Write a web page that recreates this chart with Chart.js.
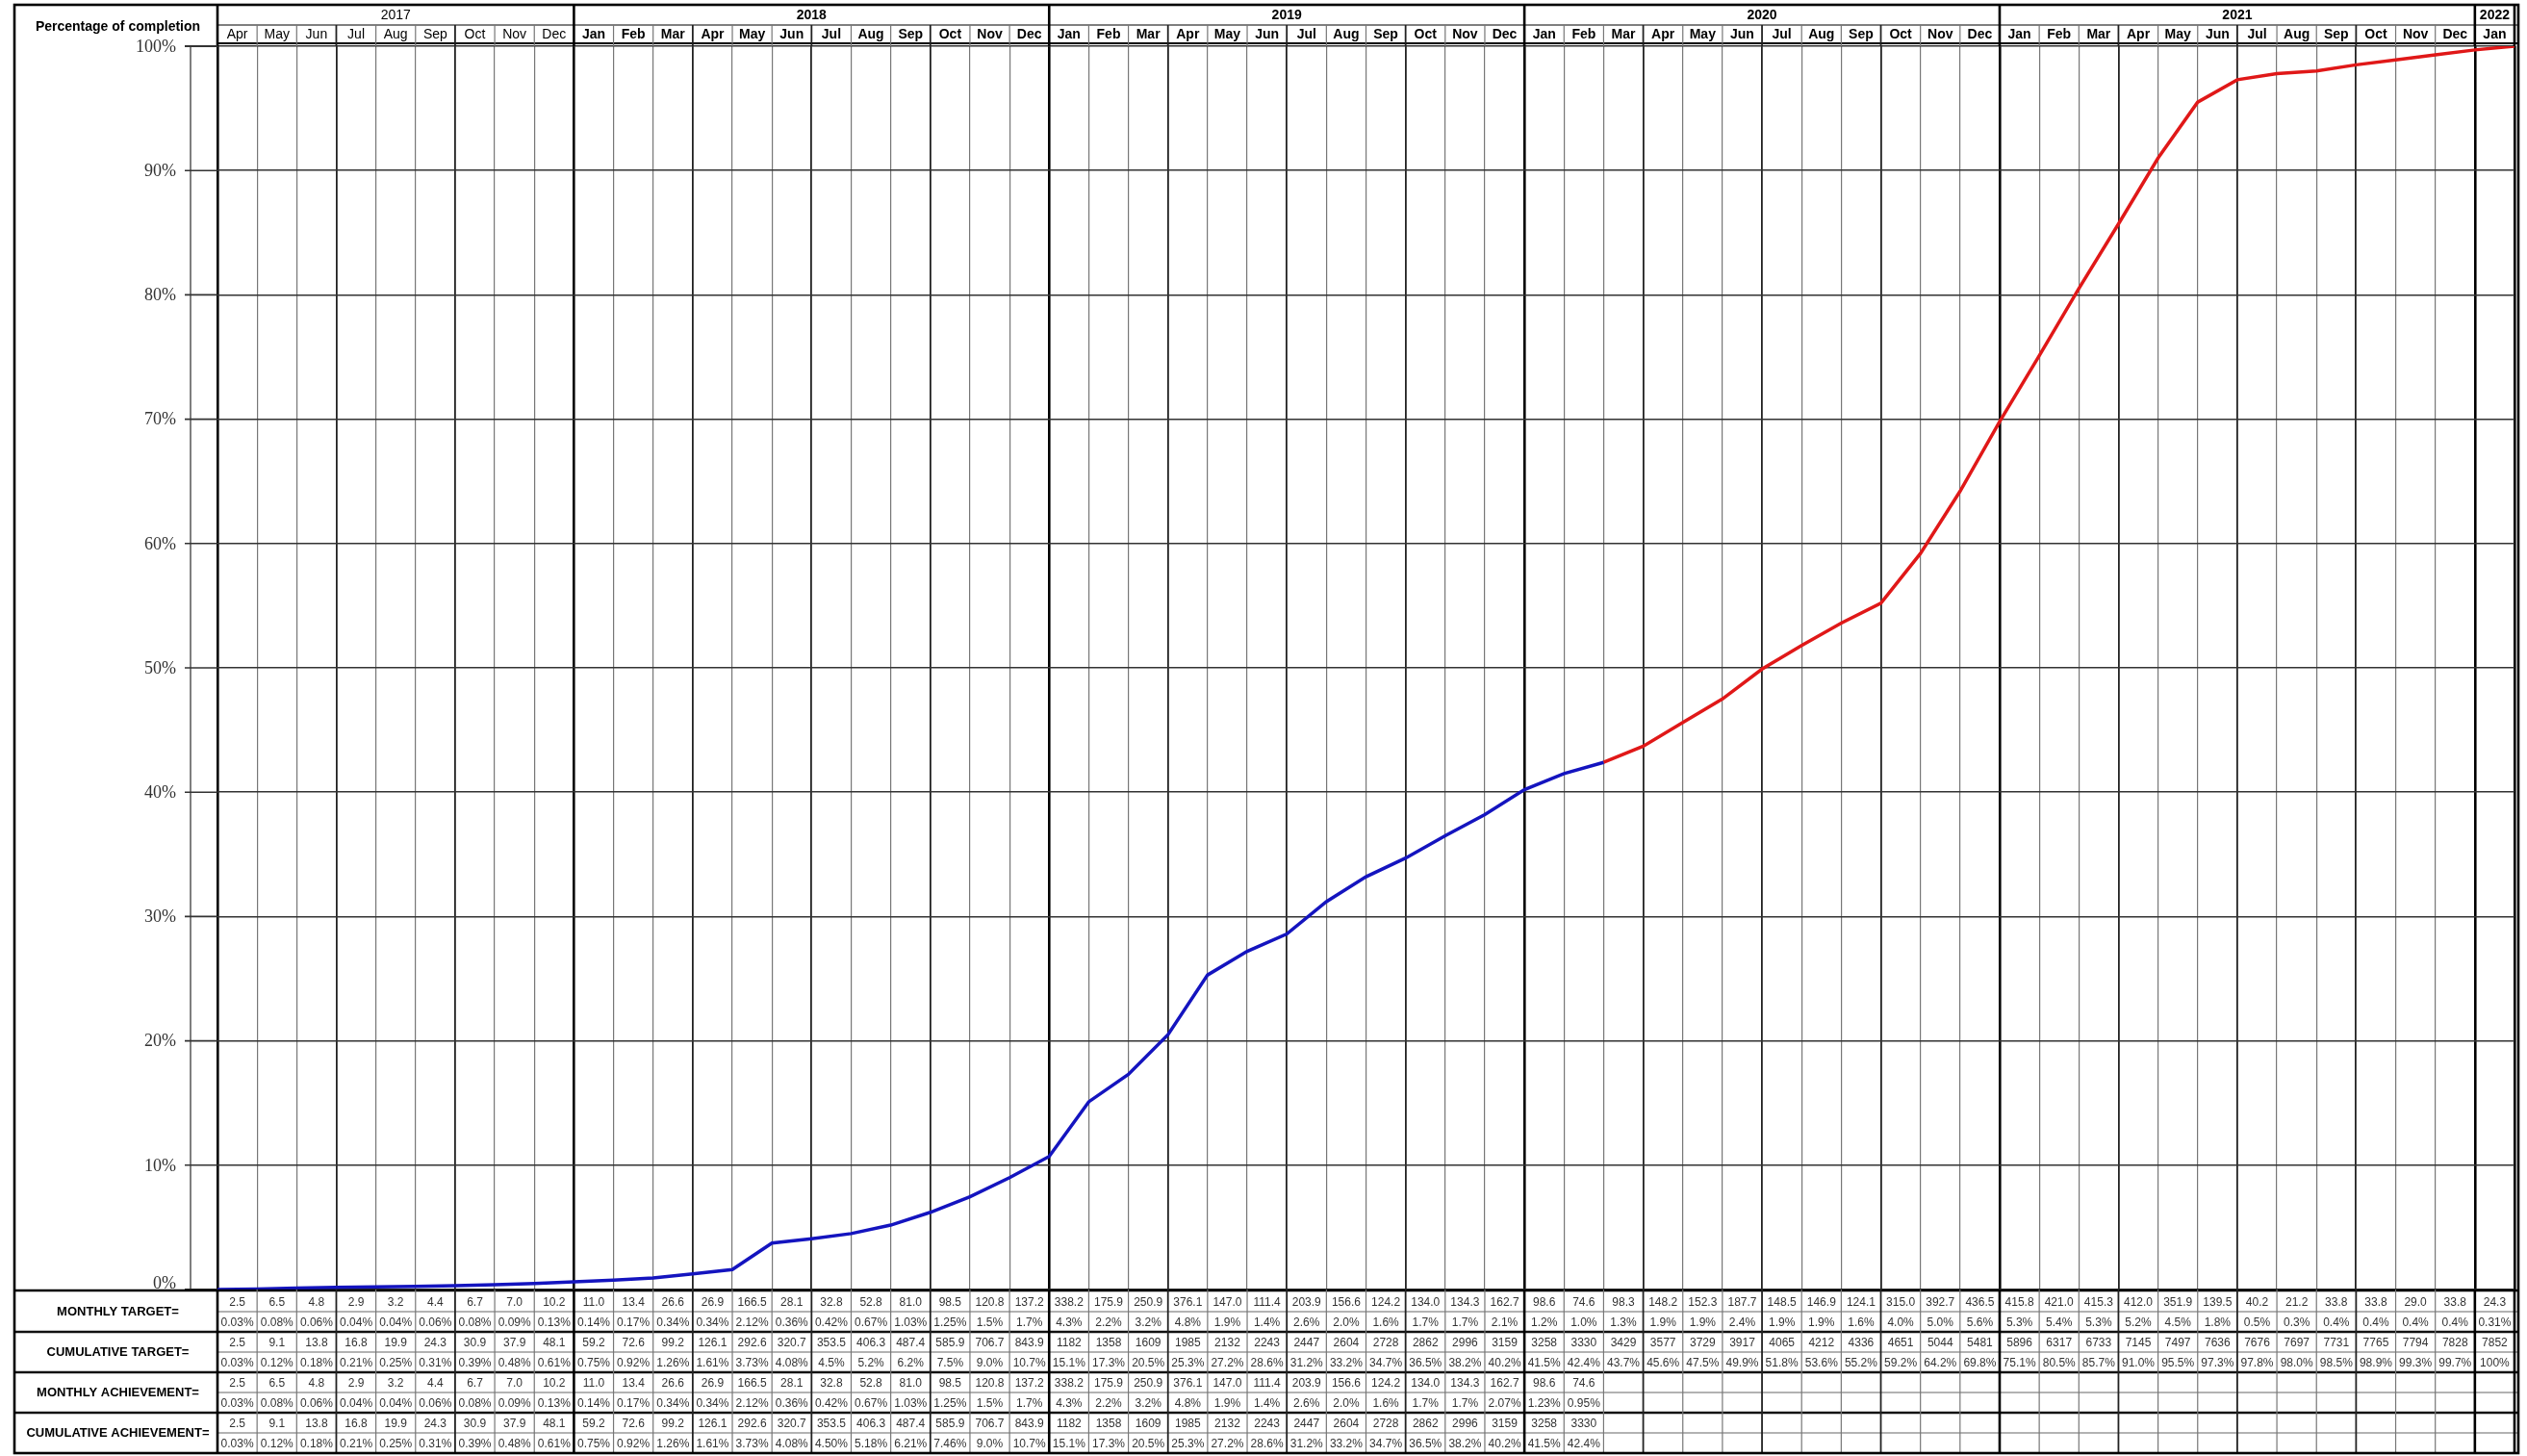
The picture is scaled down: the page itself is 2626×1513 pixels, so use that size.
<!DOCTYPE html>
<html>
<head>
<meta charset="utf-8">
<script src="https://cdn.jsdelivr.net/npm/chart.js@4.4.1/dist/chart.umd.min.js"></script>
<style>
  body { margin: 0; background: #fff; }
  #wrap { width: 2626px; height: 1513px; position: relative; }
</style>
</head>
<body>
<div id="wrap"><canvas id="chart"></canvas></div>
<script>
// months from Apr 2017 to Jan 2022
const monthLabels = [
  'Apr','May','Jun','Jul','Aug','Sep','Oct','Nov','Dec',
  'Jan','Feb','Mar','Apr','May','Jun','Jul','Aug','Sep','Oct','Nov','Dec',
  'Jan','Feb','Mar','Apr','May','Jun','Jul','Aug','Sep','Oct','Nov','Dec',
  'Jan','Feb','Mar','Apr','May','Jun','Jul','Aug','Sep','Oct','Nov','Dec',
  'Jan','Feb','Mar','Apr','May','Jun','Jul','Aug','Sep','Oct','Nov','Dec',
  'Jan'
];
const yearLabels = ['2017', '2018', '2019', '2020', '2021', '2022'];
const yearMonths = [9, 12, 12, 12, 12, 1];
const yTicks = [0, 10, 20, 30, 40, 50, 60, 70, 80, 90, 100];

const monthlyTarget = [
  2.5, 6.5, 4.8, 2.9, 3.2, 4.4, 6.7, 7.0, 10.2,
  11.0, 13.4, 26.6, 26.9, 166.5, 28.1, 32.8, 52.8, 81.0, 98.5, 120.8, 137.2,
  338.2, 175.9, 250.9, 376.1, 147.0, 111.4, 203.9, 156.6, 124.2, 134.0, 134.3, 162.7,
  98.6, 74.6, 98.3, 148.2, 152.3, 187.7, 148.5, 146.9, 124.1, 315.0, 392.7, 436.5,
  415.8, 421.0, 415.3, 412.0, 351.9, 139.5, 40.2, 21.2, 33.8, 33.8, 29.0, 33.8,
  24.3
];
const monthlyTargetPct = [
  '0.03%','0.08%','0.06%','0.04%','0.04%','0.06%','0.08%','0.09%','0.13%',
  '0.14%','0.17%','0.34%','0.34%','2.12%','0.36%','0.42%','0.67%','1.03%','1.25%','1.5%','1.7%',
  '4.3%','2.2%','3.2%','4.8%','1.9%','1.4%','2.6%','2.0%','1.6%','1.7%','1.7%','2.1%',
  '1.2%','1.0%','1.3%','1.9%','1.9%','2.4%','1.9%','1.9%','1.6%','4.0%','5.0%','5.6%',
  '5.3%','5.4%','5.3%','5.2%','4.5%','1.8%','0.5%','0.3%','0.4%','0.4%','0.4%','0.4%',
  '0.31%'
];
const cumTarget = [
  2.5, 9.1, 13.8, 16.8, 19.9, 24.3, 30.9, 37.9, 48.1,
  59.2, 72.6, 99.2, 126.1, 292.6, 320.7, 353.5, 406.3, 487.4, 585.9, 706.7, 843.9,
  1182, 1358, 1609, 1985, 2132, 2243, 2447, 2604, 2728, 2862, 2996, 3159,
  3258, 3330, 3429, 3577, 3729, 3917, 4065, 4212, 4336, 4651, 5044, 5481,
  5896, 6317, 6733, 7145, 7497, 7636, 7676, 7697, 7731, 7765, 7794, 7828,
  7852
];
const cumTargetPct = [
  '0.03%','0.12%','0.18%','0.21%','0.25%','0.31%','0.39%','0.48%','0.61%',
  '0.75%','0.92%','1.26%','1.61%','3.73%','4.08%','4.5%','5.2%','6.2%','7.5%','9.0%','10.7%',
  '15.1%','17.3%','20.5%','25.3%','27.2%','28.6%','31.2%','33.2%','34.7%','36.5%','38.2%','40.2%',
  '41.5%','42.4%','43.7%','45.6%','47.5%','49.9%','51.8%','53.6%','55.2%','59.2%','64.2%','69.8%',
  '75.1%','80.5%','85.7%','91.0%','95.5%','97.3%','97.8%','98.0%','98.5%','98.9%','99.3%','99.7%',
  '100%'
];
const monthlyAch = [
  2.5, 6.5, 4.8, 2.9, 3.2, 4.4, 6.7, 7.0, 10.2,
  11.0, 13.4, 26.6, 26.9, 166.5, 28.1, 32.8, 52.8, 81.0, 98.5, 120.8, 137.2,
  338.2, 175.9, 250.9, 376.1, 147.0, 111.4, 203.9, 156.6, 124.2, 134.0, 134.3, 162.7,
  98.6, 74.6
];
const monthlyAchPct = [
  '0.03%','0.08%','0.06%','0.04%','0.04%','0.06%','0.08%','0.09%','0.13%',
  '0.14%','0.17%','0.34%','0.34%','2.12%','0.36%','0.42%','0.67%','1.03%','1.25%','1.5%','1.7%',
  '4.3%','2.2%','3.2%','4.8%','1.9%','1.4%','2.6%','2.0%','1.6%','1.7%','1.7%','2.07%',
  '1.23%','0.95%'
];
const cumAch = [
  2.5, 9.1, 13.8, 16.8, 19.9, 24.3, 30.9, 37.9, 48.1,
  59.2, 72.6, 99.2, 126.1, 292.6, 320.7, 353.5, 406.3, 487.4, 585.9, 706.7, 843.9,
  1182, 1358, 1609, 1985, 2132, 2243, 2447, 2604, 2728, 2862, 2996, 3159,
  3258, 3330
];
const cumAchPct = [
  '0.03%','0.12%','0.18%','0.21%','0.25%','0.31%','0.39%','0.48%','0.61%',
  '0.75%','0.92%','1.26%','1.61%','3.73%','4.08%','4.50%','5.18%','6.21%','7.46%','9.0%','10.7%',
  '15.1%','17.3%','20.5%','25.3%','27.2%','28.6%','31.2%','33.2%','34.7%','36.5%','38.2%','40.2%',
  '41.5%','42.4%'
];

const rowTitles = ['MONTHLY TARGET=', 'CUMULATIVE TARGET=', 'MONTHLY ACHIEVEMENT=', 'CUMULATIVE ACHIEVEMENT='];

// each month is drawn from x=i to x=i+1, cumulative value at the month's end
const achPoints = [{ x: 0, y: 0 }];
cumAchPct.forEach((p, i) => achPoints.push({ x: i + 1, y: parseFloat(p) }));
const targetPoints = [];
for (let i = cumAchPct.length - 1; i < cumTargetPct.length; i++) {
  targetPoints.push({ x: i + 1, y: parseFloat(cumTargetPct[i]) });
}

function isYearEdge(v) {
  let s = 0;
  if (v === 0) return true;
  for (const n of yearMonths) { s += n; if (v === s) return true; }
  return false;
}

function edgeStyle(v) {
  if (isYearEdge(v)) return { w: 2.6, c: '#000' };
  const m = monthLabels[v];
  if (m === 'Apr' || m === 'Jul' || m === 'Oct') return { w: 1.8, c: '#222' };
  return { w: 1.2, c: '#777' };
}

function fmt(n) {
  return n >= 1000 ? String(Math.round(n)) : n.toFixed(1);
}

const L = 15, T = 5, R = 2617, B = 1510;

function line(ctx, x1, y1, x2, y2, w, c) {
  ctx.beginPath();
  ctx.lineWidth = w;
  ctx.strokeStyle = c;
  ctx.moveTo(x1, y1);
  ctx.lineTo(x2, y2);
  ctx.stroke();
}

const sheetPlugin = {
  id: 'sheet',
  afterDraw(chart) {
    const ctx = chart.ctx, area = chart.chartArea;
    const xs = chart.scales.x, ys = chart.scales.y;
    const px = v => xs.getPixelForValue(v);
    const n = monthLabels.length;
    ctx.save();

    // header
    const yearBot = 26, monthBot = area.top - 3;
    line(ctx, area.left, yearBot, R, yearBot, 1.2, '#000');
    line(ctx, area.left, monthBot, R, monthBot, 2, '#000');
    for (let v = 0; v <= n; v++) {
      const s = edgeStyle(v);
      const top = isYearEdge(v) ? T : yearBot;
      line(ctx, px(v), top, px(v), area.top, s.w, s.c);
    }
    ctx.fillStyle = '#000';
    ctx.textAlign = 'center';
    ctx.textBaseline = 'middle';
    for (let i = 0; i < n; i++) {
      ctx.font = (i < yearMonths[0] ? '' : 'bold ') + '14px "Liberation Sans", Arial, sans-serif';
      ctx.fillText(monthLabels[i], (px(i) + px(i + 1)) / 2, (yearBot + monthBot) / 2 + 1);
    }
    let start = 0;
    yearLabels.forEach((yl, k) => {
      ctx.font = (k === 0 ? '' : 'bold ') + '14px "Liberation Sans", Arial, sans-serif';
      ctx.fillText(yl, (px(start) + px(start + yearMonths[k])) / 2, (T + yearBot) / 2 + 1);
      start += yearMonths[k];
    });
    ctx.font = 'bold 14px "Liberation Sans", Arial, sans-serif';
    ctx.fillText('Percentage of completion', (L + area.left) / 2 + 2, 28);

    // y axis (line, ticks, labels)
    const axisX = area.left - 28;
    line(ctx, axisX, ys.getPixelForValue(100), axisX, ys.getPixelForValue(0), 1.5, '#555');
    ctx.font = '18px "Liberation Serif", "Times New Roman", serif';
    ctx.textAlign = 'right';
    ctx.fillStyle = '#333';
    yTicks.forEach(t => {
      const y = ys.getPixelForValue(t);
      line(ctx, area.left - 34, y, area.left, y, t === 0 || t === 100 ? 2 : 1.6, '#333');
      ctx.fillText(t + '%', area.left - 43, t === 0 ? y - 6 : y + 1);
    });

    // table
    const top = area.bottom + 2;
    const rh = (B - top) / 8;
    const rows = [
      [monthlyTarget, monthlyTargetPct],
      [cumTarget, cumTargetPct],
      [monthlyAch, monthlyAchPct],
      [cumAch, cumAchPct]
    ];
    line(ctx, L, area.bottom + 1, R, area.bottom + 1, 2.5, '#000');
    for (let g = 1; g < 4; g++) line(ctx, L, top + g * 2 * rh, R, top + g * 2 * rh, 2.5, '#111');
    for (let g = 0; g < 4; g++) line(ctx, area.left, top + (g * 2 + 1) * rh, R, top + (g * 2 + 1) * rh, 1.2, '#666');
    for (let v = 0; v <= n; v++) {
      const s = edgeStyle(v);
      line(ctx, px(v), area.bottom, px(v), B, s.w, s.c);
    }
    ctx.textAlign = 'center';
    ctx.fillStyle = '#000';
    ctx.font = 'bold 13px "Liberation Sans", Arial, sans-serif';
    rowTitles.forEach((t, g) => ctx.fillText(t, (L + area.left) / 2 + 2, top + (g * 2 + 1) * rh));
    ctx.font = '12px "Liberation Sans", Arial, sans-serif';
    ctx.fillStyle = '#333';
    rows.forEach(([vals, pcts], g) => {
      for (let i = 0; i < n; i++) {
        const cx = (px(i) + px(i + 1)) / 2;
        if (i < vals.length) ctx.fillText(fmt(vals[i]), cx, top + (g * 2 + 0.5) * rh + 1);
        if (i < pcts.length) ctx.fillText(pcts[i], cx, top + (g * 2 + 1.5) * rh + 1);
      }
    });

    // outer frame
    ctx.lineWidth = 2.6;
    ctx.strokeStyle = '#000';
    ctx.strokeRect(L, T, R - L, B - T);
    ctx.restore();
  }
};

new Chart(document.getElementById('chart'), {
  type: 'line',
  data: {
    datasets: [
      {
        label: 'Cumulative achievement',
        data: achPoints,
        borderColor: '#1414bf',
        borderWidth: 3.5,
        pointRadius: 0,
        tension: 0
      },
      {
        label: 'Cumulative target',
        data: targetPoints,
        borderColor: '#e01818',
        borderWidth: 3.5,
        pointRadius: 0,
        tension: 0
      }
    ]
  },
  options: {
    responsive: true,
    maintainAspectRatio: false,
    animation: false,
    layout: { padding: { left: 226, right: 13, top: 48, bottom: 173 } },
    plugins: { legend: { display: false }, tooltip: { enabled: false } },
    scales: {
      x: {
        type: 'linear',
        min: 0,
        max: monthLabels.length,
        afterBuildTicks: s => { s.ticks = monthLabels.map((m, i) => ({ value: i })).concat([{ value: monthLabels.length }]); },
        ticks: { display: false },
        border: { display: false },
        grid: {
          drawTicks: false,
          lineWidth: c => edgeStyle(c.tick.value).w,
          color: c => edgeStyle(c.tick.value).c
        }
      },
      y: {
        min: 0,
        max: 100,
        afterBuildTicks: s => { s.ticks = yTicks.map(v => ({ value: v })); },
        ticks: { display: false },
        border: { display: false },
        grid: { drawTicks: false, color: '#333', lineWidth: 1.6 }
      }
    }
  },
  plugins: [sheetPlugin]
});
</script>
</body>
</html>
